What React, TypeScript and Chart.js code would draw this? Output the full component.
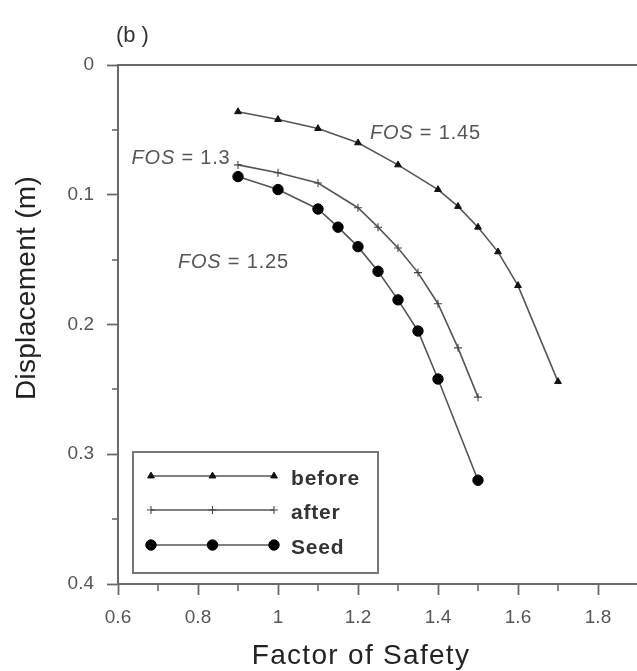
import React, { useEffect, useRef } from 'react';
import { Chart, registerables } from 'chart.js';
import { drawPoint } from 'chart.js/helpers';

Chart.register(...registerables);

// ---- data ----
const seriesNames = ['before', 'after', 'Seed'];
const beforeFos = [0.9, 1.0, 1.1, 1.2, 1.3, 1.4, 1.45, 1.5, 1.55, 1.6, 1.7];
const beforeDisp = [0.036, 0.042, 0.049, 0.06, 0.077, 0.096, 0.109, 0.125, 0.144, 0.17, 0.244];
const afterFos = [0.9, 1.0, 1.1, 1.2, 1.25, 1.3, 1.35, 1.4, 1.45, 1.5];
const afterDisp = [0.077, 0.083, 0.091, 0.11, 0.125, 0.141, 0.16, 0.184, 0.218, 0.256];
const seedFos = [0.9, 1.0, 1.1, 1.15, 1.2, 1.25, 1.3, 1.35, 1.4, 1.5];
const seedDisp = [0.086, 0.096, 0.111, 0.125, 0.14, 0.159, 0.181, 0.205, 0.242, 0.32];

const xTickValues = [0.6, 0.8, 1.0, 1.2, 1.4, 1.6, 1.8];
const xMinorTicks = [0.7, 0.9, 1.1, 1.3, 1.5, 1.7, 1.9];
const yTickValues = [0, 0.1, 0.2, 0.3, 0.4];
const yMinorTicks = [0.05, 0.15, 0.25, 0.35];

const annotationValues = ['1.45', '1.3', '1.25'];
const annotationX = [1.23, 0.634, 0.75];
const annotationY = [0.0515, 0.071, 0.151];

const panelLabel = '(b)';
const xTitle = 'Factor of Safety';
const yTitle = 'Displacement (m)';

// ---- styles ----
const FONT = '"Liberation Sans", Arial, sans-serif';
const AXIS = '#6a6a6a';
const LINE = '#555';
const MARK = '#111';

const pointStyles = [
  { pointStyle: 'triangle', radius: 3.9, borderWidth: 1, color: MARK },
  { pointStyle: 'cross', radius: 4, borderWidth: 1.1, color: '#444' },
  { pointStyle: 'circle', radius: 5.2, borderWidth: 1, color: '#000' },
];

const toPts = (xs: number[], ys: number[]) => xs.map((x, i) => ({ x, y: ys[i] }));

const decoPlugin = {
  id: 'deco',
  afterDraw(chart: any) {
    const { ctx, chartArea, scales } = chart;
    const xs = scales.x;
    const ys = scales.y;
    ctx.save();
    // top frame line
    ctx.strokeStyle = AXIS;
    ctx.lineWidth = 2;
    ctx.beginPath();
    ctx.moveTo(chartArea.left, chartArea.top);
    ctx.lineTo(chartArea.right + 10, chartArea.top);
    ctx.stroke();
    // minor ticks
    ctx.lineWidth = 1.6;
    xMinorTicks.forEach((v) => {
      const px = Math.round(xs.getPixelForValue(v));
      ctx.beginPath();
      ctx.moveTo(px, chartArea.bottom);
      ctx.lineTo(px, chartArea.bottom + 7);
      ctx.stroke();
    });
    yMinorTicks.forEach((v) => {
      const py = Math.round(ys.getPixelForValue(v));
      ctx.beginPath();
      ctx.moveTo(chartArea.left - 6, py);
      ctx.lineTo(chartArea.left, py);
      ctx.stroke();
    });

    // annotations
    ctx.fillStyle = '#555';
    ctx.textBaseline = 'alphabetic';
    ctx.textAlign = 'left';
    (ctx as any).letterSpacing = '0.8px';
    annotationValues.forEach((val, i) => {
      const px = xs.getPixelForValue(annotationX[i]);
      const py = ys.getPixelForValue(annotationY[i]) + 7;
      ctx.font = `italic 20px ${FONT}`;
      ctx.fillText('FOS', px, py);
      const w = ctx.measureText('FOS').width;
      ctx.font = `20px ${FONT}`;
      ctx.fillText(` = ${val}`, px + w, py);
    });

    // legend
    const bx = 133, by = 452, bw = 245, bh = 121;
    ctx.strokeStyle = '#777';
    ctx.lineWidth = 2;
    ctx.strokeRect(bx, by, bw, bh);
    const rows = [476, 510, 545];
    const x0 = 151, x1 = 274;
    seriesNames.forEach((name, i) => {
      const ry = rows[i];
      ctx.strokeStyle = LINE;
      ctx.lineWidth = 1.6;
      ctx.beginPath();
      ctx.moveTo(x0, ry);
      ctx.lineTo(x1, ry);
      ctx.stroke();
      const ps = pointStyles[i];
      [x0, (x0 + x1) / 2, x1].forEach((mx) => {
        ctx.fillStyle = ps.color;
        ctx.strokeStyle = ps.color;
        ctx.lineWidth = ps.borderWidth;
        drawPoint(ctx, { pointStyle: ps.pointStyle, radius: ps.radius, borderWidth: ps.borderWidth, rotation: 0 } as any, mx, ry);
      });
      ctx.fillStyle = '#333';
      ctx.font = `bold 21px ${FONT}`;
      (ctx as any).letterSpacing = '0.8px';
      ctx.textBaseline = 'alphabetic';
      ctx.fillText(name, 291, ry + 9);
    });

    // panel label
    ctx.fillStyle = '#333';
    ctx.font = `22px ${FONT}`;
    (ctx as any).letterSpacing = '0px';
    ctx.fillText('(b', 116, 42);
    const wb = ctx.measureText('(b').width;
    ctx.fillText(')', 116 + wb + 6, 42);

    // axis titles
    ctx.fillStyle = '#222';
    ctx.font = `28px ${FONT}`;
    (ctx as any).letterSpacing = '1.3px';
    ctx.textAlign = 'center';
    ctx.fillText(xTitle, 361, 664);
    ctx.save();
    ctx.translate(35, 288);
    ctx.rotate(-Math.PI / 2);
    (ctx as any).letterSpacing = '0.3px';
    ctx.fillText(yTitle, 0, 0);
    ctx.restore();

    ctx.restore();
  },
};

export default function App() {
  const ref = useRef<HTMLCanvasElement | null>(null);
  useEffect(() => {
    if (!ref.current) return;
    const datasets = [
      toPts(beforeFos, beforeDisp),
      toPts(afterFos, afterDisp),
      toPts(seedFos, seedDisp),
    ].map((data, i) => ({
      label: seriesNames[i],
      data,
      showLine: true,
      tension: 0,
      borderColor: LINE,
      borderWidth: 1.6,
      pointStyle: pointStyles[i].pointStyle as any,
      pointRadius: pointStyles[i].radius,
      pointBorderWidth: pointStyles[i].borderWidth,
      pointBackgroundColor: pointStyles[i].color,
      pointBorderColor: pointStyles[i].color,
    }));
    const chart = new Chart(ref.current, {
      type: 'scatter',
      data: { datasets },
      options: {
        animation: false,
        responsive: true,
        maintainAspectRatio: false,
        layout: { padding: { top: 65, left: 0, right: 7, bottom: 0 } },
        plugins: { legend: { display: false }, tooltip: { enabled: false } },
        scales: {
          x: {
            type: 'linear',
            min: 0.6,
            max: 1.9,
            afterBuildTicks: (s: any) => {
              s.ticks = xTickValues.map((v) => ({ value: v }));
            },
            afterFit: (s: any) => {
              s.height = 87;
            },
            ticks: {
              color: '#555',
              font: { family: FONT, size: 19 },
              padding: 11,
              maxRotation: 0,
              autoSkip: false,
              callback: (v: any) => (Math.abs(v - 1) < 1e-9 ? '1' : Number(v).toFixed(1)),
            },
            grid: { drawOnChartArea: false, drawTicks: true, tickLength: 11, tickColor: AXIS, tickWidth: 1.8 },
            border: { display: true, color: AXIS, width: 2 },
          },
          y: {
            type: 'linear',
            reverse: true,
            min: 0,
            max: 0.4,
            afterBuildTicks: (s: any) => {
              s.ticks = yTickValues.map((v) => ({ value: v }));
            },
            afterFit: (s: any) => {
              s.width = 118;
            },
            ticks: {
              color: '#555',
              font: { family: FONT, size: 19 },
              padding: 13,
              autoSkip: false,
              callback: (v: any) => (Math.abs(v) < 1e-9 ? '0' : Number(v).toFixed(1)),
            },
            grid: { drawOnChartArea: false, drawTicks: true, tickLength: 11, tickColor: AXIS, tickWidth: 1.8 },
            border: { display: true, color: AXIS, width: 2 },
          },
        },
      },
      plugins: [decoPlugin],
    });
    return () => chart.destroy();
  }, []);

  return (
    <div style={{ position: 'fixed', left: 0, top: 0, width: 637, height: 671, overflow: 'hidden', background: '#fff' }}>
      <div style={{ position: 'relative', width: 645, height: 671 }}>
        <canvas ref={ref} />
      </div>
    </div>
  );
}
